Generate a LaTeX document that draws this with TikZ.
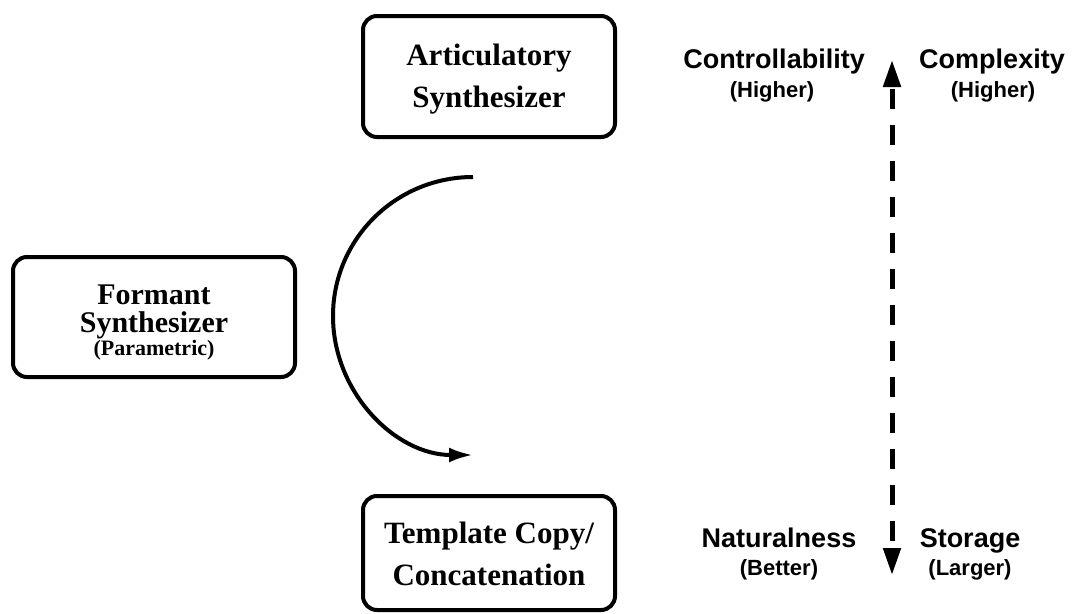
\documentclass[tikz,border=0pt]{standalone}
\usepackage{fontspec}
\setmainfont{Liberation Serif}
\newfontfamily\lsans{Liberation Sans}
\usetikzlibrary{arrows.meta}
\begin{document}
\begin{tikzpicture}[x=1pt,y=-1pt,
  synthbox/.style={draw, line width=4pt, rounded corners=14pt, inner sep=0pt},
  boxtext/.style={align=center, inner sep=0pt, font=\bfseries\fontsize{31}{42}\selectfont},
  lbl/.style={font=\lsans\bfseries\fontsize{27}{30}\selectfont, anchor=base, inner sep=0pt},
  sublbl/.style={font=\lsans\bfseries\fontsize{22}{24}\selectfont, anchor=base, inner sep=0pt},
  flow/.style={line width=4pt, -{Latex[length=24pt,width=15pt]}},
  scale arrow/.style={line width=5pt, dash pattern=on 20pt off 16pt, dash phase=-3pt,
    {Triangle[length=27pt,width=17pt]}-{Triangle[length=27pt,width=17pt]}}
]
\fill[white] (0,0) rectangle (1073,613);
\useasboundingbox (0,0) rectangle (1073,613);

% boxes
\node[synthbox, minimum width=252pt, minimum height=121pt] (art) at (489,76.5) {};
\node[boxtext] (arttxt) at (489,79) {Articulatory\\Synthesizer};

\node[synthbox, minimum width=282pt, minimum height=120pt] (form) at (154,317) {};
\node[boxtext, font=\bfseries\fontsize{30}{28}\selectfont] (formtxt) at (154,322.5)
  {Formant\\Synthesizer\\[-5pt]{\fontsize{22}{20}\selectfont(Parametric)}};

\node[synthbox, minimum width=252pt, minimum height=114pt] (tmpl) at (489,553) {};
\node[boxtext] (tmpltxt) at (489,554) {Template Copy/\\Concatenation};

% curved arrow
\coordinate (cs) at (473,177);
\coordinate (ce) at (473,455);
\draw[flow] (cs) arc[start angle=270, end angle=90, x radius=140, y radius=139];

% scale arrow
\coordinate (top) at (892,60);
\coordinate (bot) at (892,575);
\draw[scale arrow] (top) -- (bot);

% labels
\node[lbl] (ctrl) at (774,68) {Controllability};
\node[sublbl] (ctrlh) at (772,97) {(Higher)};
\node[lbl] (cplx) at (992,68) {Complexity};
\node[sublbl] (cplxh) at (993,97) {(Higher)};
\node[lbl] (nat) at (779,547) {Naturalness};
\node[sublbl] (natb) at (779,575) {(Better)};
\node[lbl] (stor) at (970,547) {Storage};
\node[sublbl] (storl) at (970,575) {(Larger)};
\end{tikzpicture}
\end{document}
